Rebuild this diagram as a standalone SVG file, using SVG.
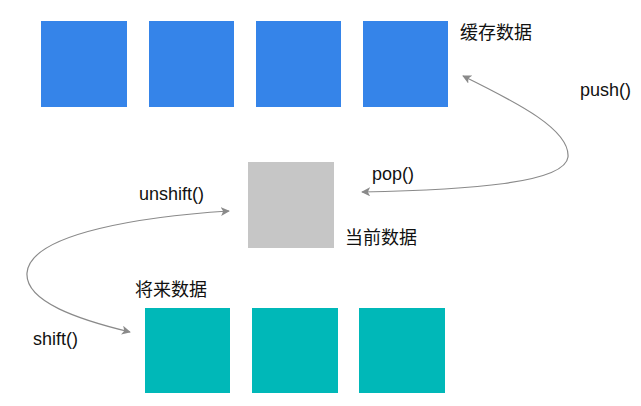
<svg xmlns="http://www.w3.org/2000/svg" width="641" height="406" viewBox="0 0 641 406">
<style>
.blue{fill:#3584e9}
.gray{fill:#c6c6c6}
.teal{fill:#00b8b8}
text{font-family:"Liberation Sans","Noto Sans CJK SC",sans-serif;font-size:18px;fill:#111}
.conn{fill:none;stroke:#8a8a8a;stroke-width:1.2}
</style>
<defs>
<marker id="ah" viewBox="0 0 10 10" refX="9" refY="5" markerWidth="9" markerHeight="9" markerUnits="userSpaceOnUse" orient="auto-start-reverse">
<path d="M0,0 L10,5 L0,10 L2.5,5 Z" fill="#8a8a8a"/>
</marker>
</defs>
<rect width="641" height="406" fill="#fff"/>
<g id="cache">
<rect class="blue" x="41" y="21" width="86" height="86"/>
<rect class="blue" x="149" y="21" width="85" height="86"/>
<rect class="blue" x="256" y="21" width="85" height="86"/>
<rect class="blue" x="363" y="21" width="85" height="86"/>
<text x="460" y="39">缓存数据</text>
</g>
<g id="current">
<rect class="gray" x="248" y="162" width="86" height="86"/>
<text x="345" y="244">当前数据</text>
</g>
<g id="future">
<rect class="teal" x="145" y="308" width="85" height="85"/>
<rect class="teal" x="252" y="308" width="86" height="85"/>
<rect class="teal" x="359" y="308" width="86" height="85"/>
<text x="135" y="296">将来数据</text>
</g>
<g id="connectors">
<path class="conn" d="M463,76 C520,104 570,130 568,157 C565,183 470,190 362,192" marker-start="url(#ah)" marker-end="url(#ah)"/>
<path class="conn" d="M229,211 C150,216 30,232 27,273 C25,302 80,320 130,332" marker-start="url(#ah)" marker-end="url(#ah)"/>
<text x="580" y="96">push()</text>
<text x="372" y="180">pop()</text>
<text x="139" y="200">unshift()</text>
<text x="33" y="345">shift()</text>
</g>
</svg>
